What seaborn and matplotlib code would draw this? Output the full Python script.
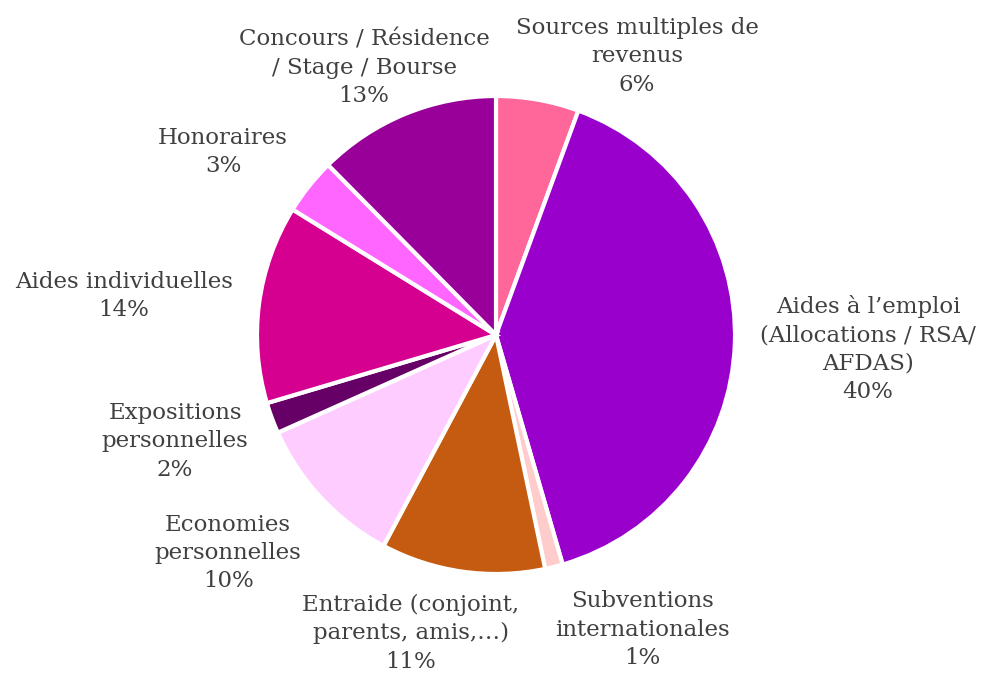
import matplotlib
matplotlib.use("Agg")
import matplotlib.pyplot as plt
import seaborn as sns

categories = [
    "Sources multiples de\nrevenus",
    "Aides à l’emploi\n(Allocations / RSA/\nAFDAS)",
    "Subventions\ninternationales",
    "Entraide (conjoint,\nparents, amis,…)",
    "Economies\npersonnelles",
    "Expositions\npersonnelles",
    "Aides individuelles",
    "Honoraires",
    "Concours / Résidence\n/ Stage / Bourse",
]
values = [5.6, 39.9, 1.2, 11.1, 10.5, 2.1, 13.4, 3.8, 12.4]
pct_labels = ["6%", "40%", "1%", "11%", "10%", "2%", "14%", "3%", "13%"]
colors = ["#FF6699", "#9900CC", "#FFCCCC", "#C55A11", "#FFCCFF",
          "#660066", "#D5008F", "#FF66FF", "#990099"]

# label layout (pie-radius units)
label_pos = [(0.590, 1.167), (1.556, -0.059), (0.611, -1.234), (-0.356, -1.247),
             (-1.121, -0.912), (-1.343, -0.444), (-1.556, 0.163), (-1.142, 0.766),
             (-0.552, 1.117)]

sns.set_theme(style="white")
plt.rcParams["font.family"] = ["DejaVu Serif"]

fig = plt.figure(figsize=(9.92, 6.75), dpi=100)
ax = fig.add_axes([0, 0, 1, 1])
palette = sns.color_palette(colors)
ax.pie(values, colors=palette, startangle=90, counterclock=False,
       wedgeprops=dict(edgecolor="white", linewidth=3))
for cat, pct, (x, y) in zip(categories, pct_labels, label_pos):
    ax.text(x, y, f"{cat}\n{pct}", ha="center", va="center", fontsize=16.5,
            color="#404040", linespacing=1.38)

R = 239.0
ax.set_xlim(-496 / R, (992 - 496) / R)
ax.set_ylim(-(675 - 335) / R, 335 / R)
ax.set_aspect("auto")
ax.axis("off")
fig.savefig("out.png", dpi=100)
